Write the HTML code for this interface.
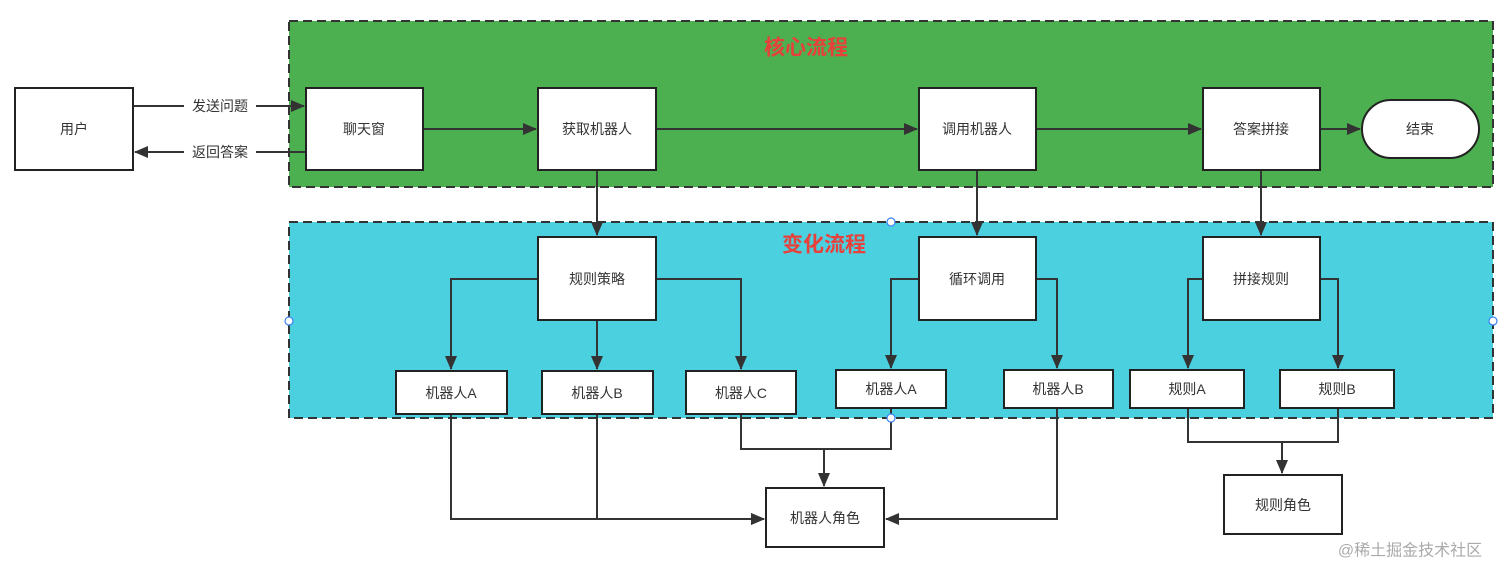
<!DOCTYPE html>
<html><head><meta charset="utf-8"><style>
html,body{margin:0;padding:0;background:#fff;width:1512px;height:579px;overflow:hidden}
svg{display:block}
text{font-family:"Liberation Sans","Noto Sans CJK SC",sans-serif;fill:#333;font-size:14px;text-anchor:middle;dominant-baseline:central}
.t{fill:#e8403a;font-size:21px;font-weight:bold}
.b{fill:#fff;stroke:#222;stroke-width:2}
.l{fill:none;stroke:#333;stroke-width:2}
</style></head><body>
<svg width="1512" height="579" viewBox="0 0 1512 579">
<defs><marker id="a" markerWidth="10" markerHeight="10" refX="9" refY="5" orient="auto" markerUnits="userSpaceOnUse"><path d="M0,0 L10,5 L0,10 Z" fill="#333"/></marker>
<marker id="m" markerWidth="14" markerHeight="12" refX="13" refY="6" orient="auto" markerUnits="userSpaceOnUse"><path d="M0,0 L14,6 L0,12 Z" fill="#333"/></marker></defs>
<rect x="289" y="21" width="1204" height="166" fill="#4caf50" stroke="#333" stroke-width="2" stroke-dasharray="9,5"/>
<rect x="289" y="222" width="1204" height="196" fill="#4bd0e0" stroke="#333" stroke-width="2" stroke-dasharray="9,5"/>
<text class="t" x="806" y="48">核心流程</text>
<text class="t" x="824" y="245">变化流程</text>
<!-- connectors -->
<g class="l" marker-end="url(#m)">
<path d="M133 106 H304"/>
<path d="M306 152 H135"/>
<path d="M423 129 H536"/>
<path d="M656 129 H917"/>
<path d="M1036 129 H1201"/>
<path d="M1320 129 H1360"/>
<path d="M597 170 V235"/>
<path d="M977 170 V235"/>
<path d="M1261 170 V235"/>
<path d="M538 279 H451 V369"/>
<path d="M597 320 V369"/>
<path d="M656 279 H741 V369"/>
<path d="M919 279 H891 V368"/>
<path d="M1036 279 H1057 V368"/>
<path d="M1203 279 H1188 V368"/>
<path d="M1320 279 H1338 V368"/>
<path d="M451 414 V519 H764"/>
<path d="M597 414 V519 H764"/>
<path d="M824 449 V486"/>
<path d="M1057 408 V519 H886"/>
<path d="M1282 442 V473"/>
</g>
<path class="l" d="M741 414 V449 H891 V408"/>
<path class="l" d="M1188 408 V442 H1338 V408"/>
<rect x="184" y="97" width="72" height="18" fill="#fff"/>
<rect x="184" y="143" width="72" height="18" fill="#fff"/>
<text x="220" y="106">发送问题</text>
<text x="220" y="152">返回答案</text>
<!-- boxes -->
<rect class="b" x="15" y="88" width="118" height="82"/><text x="74" y="129">用户</text>
<rect class="b" x="306" y="88" width="117" height="82"/><text x="364" y="129">聊天窗</text>
<rect class="b" x="538" y="88" width="118" height="82"/><text x="597" y="129">获取机器人</text>
<rect class="b" x="919" y="88" width="117" height="82"/><text x="977" y="129">调用机器人</text>
<rect class="b" x="1203" y="88" width="117" height="82"/><text x="1261" y="129">答案拼接</text>
<rect class="b" x="1362" y="100" width="117" height="58" rx="29"/><text x="1420" y="129">结束</text>
<rect class="b" x="538" y="237" width="118" height="83"/><text x="597" y="279">规则策略</text>
<rect class="b" x="919" y="237" width="117" height="83"/><text x="977" y="279">循环调用</text>
<rect class="b" x="1203" y="237" width="117" height="83"/><text x="1261" y="279">拼接规则</text>
<rect class="b" x="396" y="371" width="111" height="43"/><text x="451" y="393">机器人A</text>
<rect class="b" x="542" y="371" width="111" height="43"/><text x="597" y="393">机器人B</text>
<rect class="b" x="686" y="371" width="110" height="43"/><text x="741" y="393">机器人C</text>
<rect class="b" x="836" y="370" width="110" height="38"/><text x="891" y="389">机器人A</text>
<rect class="b" x="1004" y="370" width="109" height="38"/><text x="1058" y="389">机器人B</text>
<rect class="b" x="1130" y="370" width="114" height="38"/><text x="1187" y="389">规则A</text>
<rect class="b" x="1280" y="370" width="114" height="38"/><text x="1337" y="389">规则B</text>
<rect class="b" x="766" y="488" width="118" height="59"/><text x="825" y="518">机器人角色</text>
<rect class="b" x="1224" y="475" width="118" height="59"/><text x="1283" y="505">规则角色</text>
<g fill="#fff" stroke="#3b82f6" stroke-width="1.2">
<circle cx="891" cy="222" r="4"/><circle cx="289" cy="321" r="4"/><circle cx="1493" cy="321" r="4"/><circle cx="891" cy="418" r="4"/></g>
<text x="1410" y="551" style="fill:#aaa;font-size:16px">@稀土掘金技术社区</text>
</svg>
</body></html>
